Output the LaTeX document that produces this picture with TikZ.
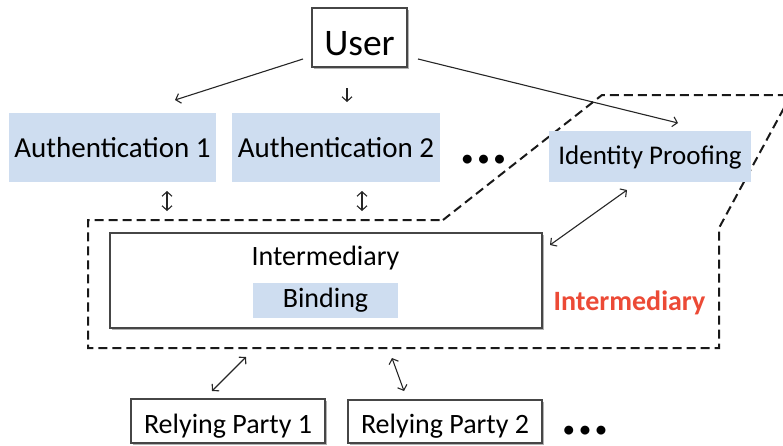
\documentclass[tikz,border=0pt]{standalone}
\usepackage{fontspec}
\setmainfont{Carlito}
\usetikzlibrary{arrows.meta,shadows}
\definecolor{boxblue}{RGB}{206,221,240}
\definecolor{labred}{RGB}{236,74,54}
\definecolor{edgegray}{RGB}{70,70,70}
\tikzset{
  whitebox/.style={draw=edgegray, line width=1.3pt, fill=white, inner sep=0pt,
    drop shadow={shadow xshift=1.5pt, shadow yshift=-1.5pt, opacity=0.3, fill=black}},
  bluebox/.style={fill=boxblue, inner sep=0pt},
  txt/.style={inner sep=0pt, anchor=base},
  dotstxt/.style={inner sep=0pt, anchor=base, text height=9pt, text depth=0pt,
    font=\fontsize{21pt}{24pt}\selectfont\bfseries},
  barb/.tip={Straight Barb[length=4.5pt,width=10pt]},
  arr/.style={line width=1.1pt, draw=black!85, -barb},
  darr/.style={line width=1.1pt, draw=black!85, barb-barb},
  group/.style={line width=2pt, dash pattern=on 9pt off 5pt, draw=black!90}
}
\newcommand{\dotrow}{•\hspace{5.7pt}•\hspace{5.7pt}•}
\begin{document}
\begin{tikzpicture}[x=1pt,y=-1pt]
\useasboundingbox (0,0) rectangle (783,445);
\clip (0,0) rectangle (783,445);
% dashed grouping outline
\draw[group] (443,220) -- (602,95) -- (791,95) -- (719,228) -- (719,348) -- (88,348) -- (88,220) -- cycle;

% nodes
\node[whitebox, minimum width=95pt, minimum height=59pt, text height=35pt, text depth=0pt,
  font=\fontsize{37.5pt}{40pt}\selectfont] (user) at (359.5,37.5) {User};
\node[bluebox, minimum width=207pt, minimum height=69pt, text height=19pt, text depth=0pt,
  font=\fontsize{29pt}{34pt}\selectfont] (auth1) at (112.5,147.5) {Authentication 1};
\node[bluebox, minimum width=208pt, minimum height=69pt, text height=19pt, text depth=0pt,
  font=\fontsize{29pt}{34pt}\selectfont] (auth2) at (336,147.5) {Authentication 2};
\node[dotstxt] (dots1) at (483.5,165.7) {\dotrow};
\node[bluebox, minimum width=202pt, minimum height=51pt, text height=15pt, text depth=0pt,
  font=\fontsize{27pt}{32pt}\selectfont] (idp) at (650,156.5) {Identity Proofing};
\node[whitebox, minimum width=432pt, minimum height=95pt] (inter) at (326,280.5) {};
\node[txt, font=\fontsize{28pt}{33pt}\selectfont] (intertitle) at (325.5,265) {Intermediary};
\node[bluebox, minimum width=145pt, minimum height=35pt, text height=13.6pt, text depth=0pt,
  font=\fontsize{28pt}{33pt}\selectfont] (bind) at (325.5,300.5) {Binding};
\node[txt, text=labred, font=\fontsize{28pt}{33pt}\selectfont\bfseries] (grouplabel) at (629.5,310) {Intermediary};
\node[whitebox, minimum width=194pt, minimum height=44pt, text height=24pt, text depth=0pt,
  font=\fontsize{28pt}{33pt}\selectfont] (rp1) at (228,421) {Relying Party 1};
\node[whitebox, minimum width=194pt, minimum height=43pt, text height=23pt, text depth=0pt,
  font=\fontsize{28pt}{33pt}\selectfont] (rp2) at (445,421.5) {Relying Party 2};
\node[dotstxt] (dots2) at (585,436.7) {\dotrow};

% connector end points
\coordinate (uA) at (303,59);   \coordinate (a1top) at (175,100);
\coordinate (uB) at (347,88);   \coordinate (a2top) at (347,102);
\coordinate (uC) at (418,59);   \coordinate (idtop) at (678,123);
\coordinate (a1lo) at (167,191); \coordinate (a1hi) at (167,211);
\coordinate (a2lo) at (362,191); \coordinate (a2hi) at (362,211);
\coordinate (idbot) at (627,190); \coordinate (intR) at (550,245);
\coordinate (intB1) at (246,357); \coordinate (rp1top) at (212,391);
\coordinate (intB2) at (392,358); \coordinate (rp2top) at (404,391);

\draw[arr] (uA) -- (a1top);
\draw[arr] (uB) -- (a2top);
\draw[arr] (uC) -- (idtop);
\draw[darr] (a1lo) -- (a1hi);
\draw[darr] (a2lo) -- (a2hi);
\draw[darr] (idbot) -- (intR);
\draw[darr] (intB1) -- (rp1top);
\draw[darr] (intB2) -- (rp2top);
\end{tikzpicture}
\end{document}
